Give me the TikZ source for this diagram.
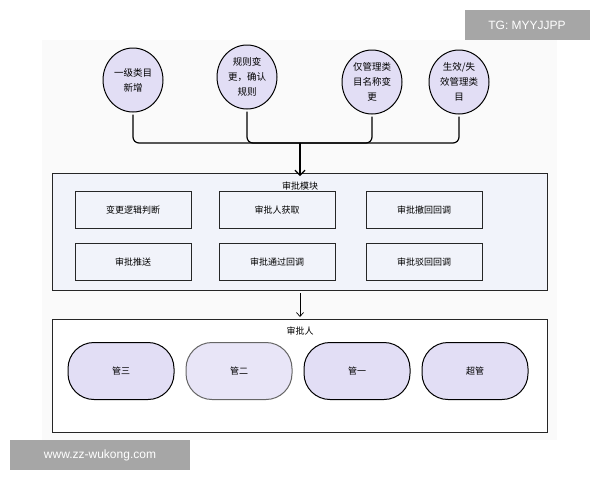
\documentclass[tikz,border=0pt]{standalone}
\usepackage{fontspec}
\setmainfont{Noto Sans CJK SC}
\newfontfamily\latin{Liberation Sans}
\usetikzlibrary{shapes.geometric,arrows.meta}
\definecolor{lav}{HTML}{E2DEF5}
\definecolor{boxbg}{HTML}{F1F3FA}
\definecolor{wm}{HTML}{A6A6A6}
\begin{document}
\begin{tikzpicture}[x=1pt,y=-1pt,
  circ/.style={ellipse,draw=black,line width=1pt,fill=lav,minimum width=60,minimum height=64,inner sep=0pt,align=center,font=\fontsize{9.5}{15}\selectfont},
  panel/.style={draw=black!85,line width=1pt,fill=boxbg},
  item/.style={draw=black!85,line width=1pt,fill=boxbg,minimum width=116,minimum height=37,inner sep=0pt,font=\fontsize{9}{11}\selectfont},
  pill/.style={draw=black,line width=1pt,fill=lav,rounded corners=26,minimum width=106,minimum height=57,inner sep=0pt,font=\fontsize{9}{11}\selectfont},
  conn/.style={line width=1.2pt,rounded corners=6},
  wmark/.style={fill=wm,text=white,inner sep=0pt,font=\latin\fontsize{12}{14}\selectfont}]
\useasboundingbox (0,0) rectangle (600,480);
\fill[white] (0,0) rectangle (600,480);
\fill[black!2] (42,40) rectangle (557,440);
\node[circ] (c1) at (133,80) {一级类目\\新增};
\node[circ] (c2) at (247,77) {规则变\\更，确认\\规则};
\node[circ] (c3) at (372,82) {仅管理类\\目名称变\\更};
\node[circ] (c4) at (459,82) {生效/失\\效管理类\\目};
\draw[panel] (52,173) rectangle (547,290);
\node[font=\fontsize{9}{11}\selectfont] (t1) at (300,186) {审批模块};
\coordinate (top) at (300,173);
\coordinate (j) at (300,143);
\node[item] (b1) at (133,210) {变更逻辑判断};
\node[item] (b2) at (277,210) {审批人获取};
\node[item] (b3) at (424,210) {审批撤回回调};
\node[item] (b4) at (133,262) {审批推送};
\node[item] (b5) at (277,262) {审批通过回调};
\node[item] (b6) at (424,262) {审批驳回回调};
\draw[conn] ([yshift=-2pt]c1.south) |- (j);
\draw[conn] ([yshift=-2pt]c2.south) |- (j);
\draw[conn] ([yshift=-2pt]c3.south) |- (j);
\draw[conn] ([yshift=-2pt]c4.south) |- (j);
\draw[line width=1.2pt,-{Straight Barb[length=5pt,width=10pt]}] (j) -- ([yshift=-3pt]top);
\draw[panel,fill=white] (52,319) rectangle (547,432);
\node[font=\fontsize{9}{11}\selectfont] (t2) at (300,331) {审批人};
\draw[line width=0.7pt,-{Straight Barb[length=4pt,width=7pt]}] (300,293) -- (t2.north |- 0,317);
\node[pill] (p1) at (121,371) {管三};
\node[pill,draw=black!60,fill=lav!80] (p2) at (239,371) {管二};
\node[pill] (p3) at (357,371) {管一};
\node[pill] (p4) at (475,371) {超管};
\node[wmark,minimum width=125,minimum height=30] (w1) at (527,25) {TG: MYYJJPP};
\node[wmark,minimum width=180,minimum height=30] (w2) at (100,455) {www.zz-wukong.com};
\end{tikzpicture}
\end{document}
